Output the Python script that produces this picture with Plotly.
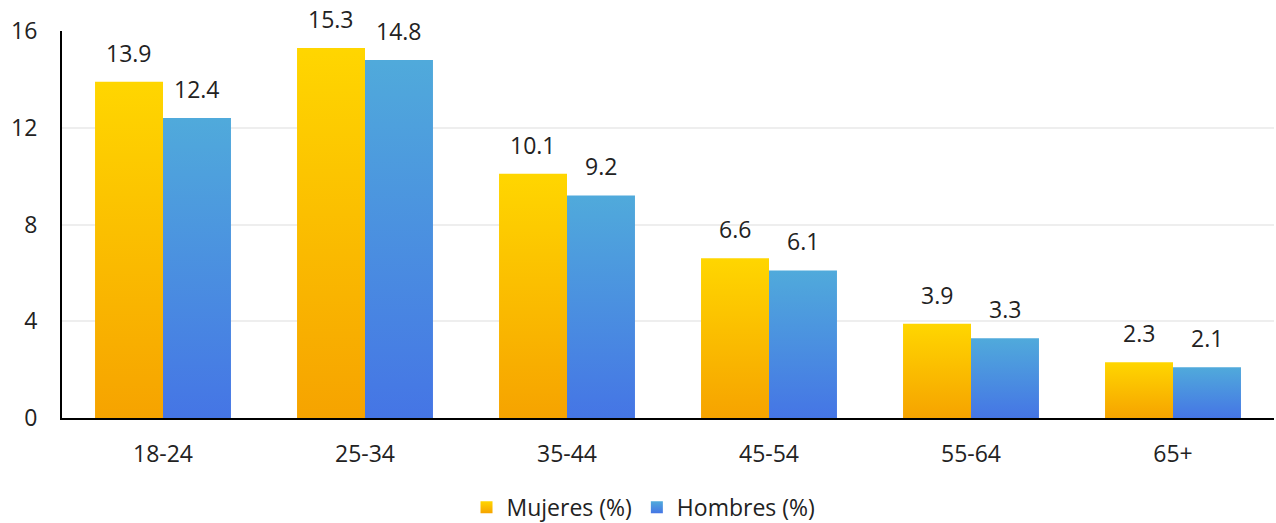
import plotly.graph_objects as go

# Age groups and the share of each group (%)
age_groups = ["18-24", "25-34", "35-44", "45-54", "55-64", "65+"]
mujeres = [13.9, 15.3, 10.1, 6.6, 3.9, 2.3]
hombres = [12.4, 14.8, 9.2, 6.1, 3.3, 2.1]
y_ticks = [0, 4, 8, 12, 16]

FONT = "Open Sans"
TEXT = "#222222"
SIZE = 23

series = [
    ("Mujeres (%)", mujeres, "#FCC200", "gradMujeres", "#FFD600", "#F6A300"),
    ("Hombres (%)", hombres, "#4B8FE0", "gradHombres", "#50AADB", "#4575E5"),
]

fig = go.Figure()
for name, vals, base, _gid, _top, _bottom in series:
    fig.add_trace(go.Bar(
        x=age_groups, y=vals, name=name,
        marker=dict(color=base, line=dict(width=0)),
        hoverinfo="x+y+name",
    ))

# value labels above each bar
annotations = []
for idx, (name, vals, *_rest) in enumerate(series):
    shift = -34 if idx == 0 else 34
    for cat, v in zip(age_groups, vals):
        annotations.append(dict(
            x=cat, y=v, xref="x", yref="y", text=f"{v:.1f}",
            showarrow=False, xshift=shift, yshift=11, yanchor="bottom",
            font=dict(family=FONT, size=SIZE, color=TEXT),
        ))

fig.update_layout(
    width=1276, height=523,
    margin=dict(l=62, r=2, t=31, b=105),
    paper_bgcolor="white", plot_bgcolor="white",
    barmode="group", bargap=0.327, bargroupgap=0,
    font=dict(family=FONT, size=SIZE, color=TEXT),
    annotations=annotations,
    showlegend=True,
    legend=dict(
        orientation="h", x=0.4798, xanchor="center",
        yref="container", y=0.03, yanchor="middle",
        font=dict(family=FONT, size=SIZE, color=TEXT),
        itemwidth=30, traceorder="normal",
    ),
    xaxis=dict(
        showline=True, linecolor="#000000", linewidth=2,
        showgrid=False, ticks="", ticklabelstandoff=14,
        tickfont=dict(family=FONT, size=SIZE, color=TEXT),
    ),
    yaxis=dict(
        range=[0, 16], tickvals=y_ticks,
        showline=True, linecolor="#000000", linewidth=2,
        showgrid=True, gridcolor="#EEEEEE", gridwidth=2,
        zeroline=False, ticks="", ticklabelstandoff=18,
        tickfont=dict(family=FONT, size=SIZE, color=TEXT),
    ),
)

# vertical gradient fill for the bars and legend swatches
gradients = ", ".join(
    f"['{gid}', '{top}', '{bottom}']" for _n, _v, _b, gid, top, bottom in series
)
post_script = """
var gd = document.getElementById('{plot_id}');
var grads = [%s];
function applyGradients() {
  var NS = 'http://www.w3.org/2000/svg';
  var svg = gd.querySelector('svg.main-svg');
  if (!svg) return;
  var defs = svg.querySelector('defs');
  if (!defs) { defs = document.createElementNS(NS, 'defs'); svg.insertBefore(defs, svg.firstChild); }
  grads.forEach(function (g) {
    if (document.getElementById(g[0])) return;
    var lg = document.createElementNS(NS, 'linearGradient');
    lg.setAttribute('id', g[0]);
    lg.setAttribute('x1', '0'); lg.setAttribute('y1', '0');
    lg.setAttribute('x2', '0'); lg.setAttribute('y2', '1');
    [['0', g[1]], ['1', g[2]]].forEach(function (s) {
      var st = document.createElementNS(NS, 'stop');
      st.setAttribute('offset', s[0]);
      st.setAttribute('stop-color', s[1]);
      lg.appendChild(st);
    });
    defs.appendChild(lg);
  });
  var traces = gd.querySelectorAll('.barlayer .trace.bars');
  traces.forEach(function (t, i) {
    if (!grads[i]) return;
    t.querySelectorAll('.point path').forEach(function (p) {
      p.style.fill = 'url(#' + grads[i][0] + ')';
    });
  });
  var items = gd.querySelectorAll('.legend .traces');
  items.forEach(function (t, i) {
    if (!grads[i]) return;
    t.querySelectorAll('.legendpoints path').forEach(function (p) {
      p.style.fill = 'url(#' + grads[i][0] + ')';
    });
  });
}
applyGradients();
gd.on('plotly_afterplot', applyGradients);
""" % gradients

fig.write_html("out.html", post_script=post_script)
